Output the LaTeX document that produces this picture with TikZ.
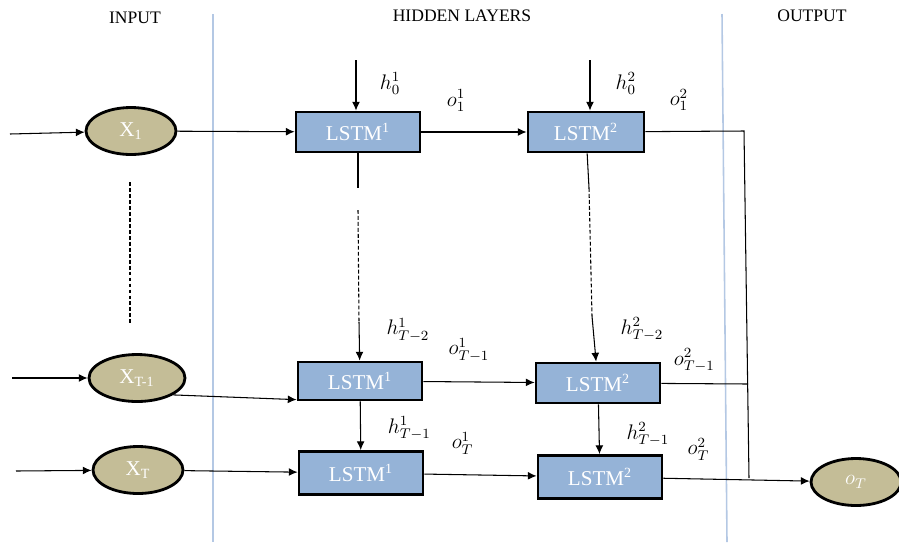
\documentclass[tikz,border=0pt]{standalone}
\usepackage{amsmath}
\usepackage{fontspec}
\setmainfont{Liberation Serif}
\usetikzlibrary{arrows,arrows.meta,shapes.geometric}
\definecolor{inputtan}{HTML}{C4BD97}
\definecolor{lstmblue}{HTML}{95B3D7}
\definecolor{layerline}{HTML}{B4C8E4}

\begin{document}
\begin{tikzpicture}[x=0.02cm, y=-0.02cm, >={Latex[length=5pt,width=4.5pt]}, semithick,
	inp/.style={ellipse, draw, line width=1.6pt, fill=inputtan,
		text=white, font=\large, inner sep=0pt,
		minimum width=1.8cm, minimum height=0.94cm},
	lstm/.style={rectangle, draw, line width=1.6pt, fill=lstmblue,
		text=white, font=\large, inner sep=0pt,
		minimum width=2.48cm, minimum height=0.8cm},
	lbl/.style={font=\large},
	sep/.style={draw=layerline, line width=0.9pt},
	dashline/.style={dash pattern=on 2.2pt off 1.2pt}]
	\useasboundingbox (0,0) rectangle (899,542);

	% headings and layer separators
	\node (in) at (135,18) {INPUT};
	\node (hid) at (462,16) {HIDDEN LAYERS};
	\node (out) at (812,16) {OUTPUT};
	\draw [sep] (213,14) -- (213,542);
	\draw [sep] (722,14) -- (727,542);

	% inputs
	\node [inp] (1) at (131,131) 
		{X\textsubscript{1}};
	\node [inp, minimum width=1.92cm] (2) at (137,378) 
		{X\textsubscript{T-1}};
	\node [inp] (3) at (138,470) 
		{X\textsubscript{T}};

	% lstm cells
	\node [lstm] (4) at (358,132) 
		{LSTM\textsuperscript{1}};
	\node [lstm, minimum width=2.32cm] (5) at (586,132) 
		{LSTM\textsuperscript{2}};
	\node [lstm, minimum height=0.76cm] (6) at (360,381) 
		{LSTM\textsuperscript{1}};
	\node [lstm] (7) at (598,383) 
		{LSTM\textsuperscript{2}};
	\node [lstm, minimum height=0.86cm] (8) at (361,473) 
		{LSTM\textsuperscript{1}};
	\node [lstm, minimum height=0.86cm] (9) at (600,477) 
		{LSTM\textsuperscript{2}};

	% output
	\node [inp] (10) at (856,482) 
		{$o_T$};

	% free ends
	\coordinate (s1) at (10,134);
	\coordinate (s2) at (12,378);
	\coordinate (s3) at (16,471);
	\coordinate (h1) at (356,60);
	\coordinate (h2) at (590,60);
	\coordinate (d1) at (130,182);
	\coordinate (d2) at (130,325);
	\coordinate (a1) at (358,188);
	\coordinate (a2) at (358,210);
	\coordinate (a3) at (359,322);
	\coordinate (b1) at (589,188);
	\coordinate (b2) at (592,316);
	\coordinate (c1) at (744,131);
	\coordinate (c2) at (749,478);
	\coordinate (c3) at (748,384);

	\draw [ -> ] (s1) to (1);
	\draw [ -> ] (s2) to (2);
	\draw [ -> ] (s3) to (3);
	\draw [dashline] (d1) to (d2);

	\draw [ -> ] (1) to (4);
	\draw [ -> ] (2.-25) to ([yshift=1pt]6.south west);
	\draw [ -> ] (3) to (8);

	\draw [ -> ] (h1) to 
		node [lbl, right=10pt, pos=0.46] {$ h_0^1 $} 
		(h1 |- 4.north);
	\draw [ -> ] (h2) to 
		node [lbl, right=11pt, pos=0.46] {$ h_0^2 $} 
		(h2 |- 5.north);

	\draw [ -> ] (4) to 
		node [lbl, above=8pt, pos=0.33] {$ o_1^1 $} 
		(5);
	\draw [ -> ] (6) to 
		node [lbl, above=8pt, pos=0.41] {$ o_{T-1}^1 $} 
		(7);
	\draw [ -> ] (8) to 
		node [lbl, above=8pt, pos=0.34] {$ o_T^1 $} 
		(9);

	\draw (4) to (a1);
	\draw [dashline] (a2) to (a3);
	\draw [ -> ] (a3) to 
		node [lbl, right=12pt, pos=0.2] {$ h_{T-2}^1 $} 
		(6);
	\draw (5) to (b1);
	\draw [dashline] (b1) to (b2);
	\draw [ -> ] (b2) to 
		node [lbl, right=12pt, pos=0.3] {$ h_{T-2}^2 $} 
		(7);
	\draw [ -> ] (6) to 
		node [lbl, right=12pt, pos=0.55] {$ h_{T-1}^1 $} 
		(8);
	\draw [ -> ] (7) to 
		node [lbl, right=12pt, pos=0.6] {$ h_{T-1}^2 $} 
		(9);

	\draw (5) to 
		node [lbl, above=8pt, pos=0.34] {$ o_1^2 $} 
		(c1) to (c2);
	\draw (7) to 
		node [lbl, above=3pt, pos=0.38] {$ o_{T-1}^2 $} 
		(c3);
	\draw [ -> ] (9) to 
		node [lbl, above=7pt, pos=0.24] {$ o_T^2 $} 
		(10);
\end{tikzpicture}
\end{document}
